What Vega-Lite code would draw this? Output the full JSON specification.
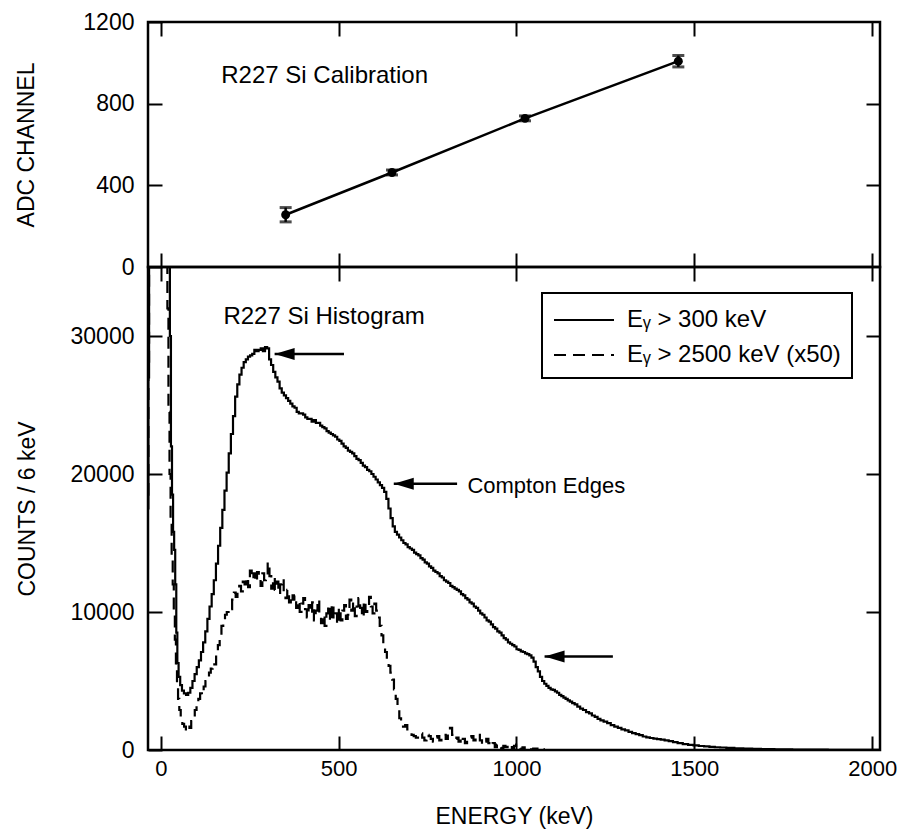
{
"$schema": "https://vega.github.io/schema/vega-lite/v6.json",
"background": "white",
"padding": {"left": 14, "top": 9, "right": 4, "bottom": 3},
"spacing": 0,
"bounds": "flush",
"resolve": {"legend": {"strokeDash": "independent"}},
"config": {
  "view": {"stroke": "black", "strokeWidth": 2.5},
  "axis": {"grid": false, "domain": false, "ticks": true, "tickColor": "black", "tickWidth": 2, "tickSize": -14, "minExtent": 0, "labelColor": "black", "labelFont": "Liberation Sans", "labelFontSize": 22, "labelPadding": 22, "format": "d", "titleColor": "black", "titleFont": "Liberation Sans", "titleFontSize": 23, "titleFontWeight": "normal"},
  "legend": {"strokeWidth": 2},
  "text": {"font": "Liberation Sans", "color": "black"}
},
"datasets": {
  "calib": [
    {"E": 351, "adc": 256, "lo": 221, "hi": 291},
    {"E": 650, "adc": 463, "lo": 451, "hi": 475},
    {"E": 1024, "adc": 728, "lo": 716, "hi": 740},
    {"E": 1455, "adc": 1008, "lo": 980, "hi": 1036}
  ],
  "arrows": [
    {"E": 320, "E2": 515, "c": 28700},
    {"E": 655, "E2": 833, "c": 19300},
    {"E": 1079, "E2": 1271, "c": 6780}
  ],
  "hist": [
{"E":-36,"c":17500,"s":"A"},{"E":-34,"c":27000,"s":"A"},{"E":-32,"c":40000,"s":"A"},{"E":24,"c":40000,"s":"A"},{"E":27,"c":30000,"s":"A"},{"E":30,"c":22000,"s":"A"},{"E":33,"c":18500,"s":"A"},{"E":36,"c":15800,"s":"A"},{"E":39,"c":14500,"s":"A"},{"E":42,"c":12000,"s":"A"},{"E":45,"c":8500,"s":"A"},{"E":48,"c":6300,"s":"A"},{"E":52,"c":5300,"s":"A"},{"E":57,"c":4700,"s":"A"},{"E":62,"c":4300,"s":"A"},{"E":68,"c":4100,"s":"A"},{"E":74,"c":4000,"s":"A"},{"E":80,"c":4150,"s":"A"},{"E":86,"c":4500,"s":"A"},{"E":92,"c":5000,"s":"A"},{"E":98,"c":5500,"s":"A"},{"E":104,"c":6000,"s":"A"},{"E":110,"c":6500,"s":"A"},{"E":116,"c":7100,"s":"A"},{"E":122,"c":7800,"s":"A"},{"E":128,"c":8600,"s":"A"},{"E":134,"c":9500,"s":"A"},{"E":140,"c":10400,"s":"A"},{"E":146,"c":11300,"s":"A"},{"E":152,"c":12300,"s":"A"},{"E":158,"c":13500,"s":"A"},{"E":164,"c":14800,"s":"A"},{"E":170,"c":16100,"s":"A"},{"E":176,"c":17400,"s":"A"},{"E":182,"c":18800,"s":"A"},{"E":188,"c":20100,"s":"A"},{"E":194,"c":21500,"s":"A"},{"E":200,"c":22900,"s":"A"},{"E":206,"c":24200,"s":"A"},{"E":212,"c":25600,"s":"A"},{"E":218,"c":26500,"s":"A"},{"E":224,"c":27200,"s":"A"},{"E":230,"c":27700,"s":"A"},{"E":236,"c":28100,"s":"A"},{"E":242,"c":28300,"s":"A"},{"E":248,"c":28500,"s":"A"},{"E":254,"c":28600,"s":"A"},{"E":260,"c":28700,"s":"A"},{"E":266,"c":29000,"s":"A"},{"E":272,"c":28900,"s":"A"},{"E":278,"c":29000,"s":"A"},{"E":284,"c":29100,"s":"A"},{"E":290,"c":28900,"s":"A"},{"E":296,"c":29200,"s":"A"},{"E":302,"c":29100,"s":"A"},{"E":307,"c":28300,"s":"A"},{"E":313,"c":27900,"s":"A"},{"E":319,"c":27400,"s":"A"},{"E":325,"c":27000,"s":"A"},{"E":331,"c":26700,"s":"A"},{"E":337,"c":26200,"s":"A"},{"E":343,"c":25900,"s":"A"},{"E":349,"c":25700,"s":"A"},{"E":355,"c":25500,"s":"A"},{"E":361,"c":25300,"s":"A"},{"E":367,"c":25100,"s":"A"},{"E":373,"c":24900,"s":"A"},{"E":379,"c":24800,"s":"A"},{"E":385,"c":24500,"s":"A"},{"E":391,"c":24400,"s":"A"},{"E":397,"c":24400,"s":"A"},{"E":403,"c":24300,"s":"A"},{"E":409,"c":24100,"s":"A"},{"E":415,"c":24000,"s":"A"},{"E":421,"c":24000,"s":"A"},{"E":427,"c":23800,"s":"A"},{"E":433,"c":23900,"s":"A"},{"E":439,"c":23700,"s":"A"},{"E":445,"c":23700,"s":"A"},{"E":451,"c":23500,"s":"A"},{"E":457,"c":23400,"s":"A"},{"E":463,"c":23300,"s":"A"},{"E":469,"c":23100,"s":"A"},{"E":475,"c":23000,"s":"A"},{"E":481,"c":22900,"s":"A"},{"E":487,"c":22800,"s":"A"},{"E":493,"c":22700,"s":"A"},{"E":499,"c":22500,"s":"A"},{"E":505,"c":22400,"s":"A"},{"E":511,"c":22200,"s":"A"},{"E":517,"c":22000,"s":"A"},{"E":523,"c":21900,"s":"A"},{"E":529,"c":21700,"s":"A"},{"E":535,"c":21600,"s":"A"},{"E":541,"c":21500,"s":"A"},{"E":547,"c":21300,"s":"A"},{"E":553,"c":21100,"s":"A"},{"E":559,"c":21000,"s":"A"},{"E":565,"c":20800,"s":"A"},{"E":571,"c":20600,"s":"A"},{"E":577,"c":20500,"s":"A"},{"E":583,"c":20300,"s":"A"},{"E":589,"c":20200,"s":"A"},{"E":595,"c":20000,"s":"A"},{"E":601,"c":19800,"s":"A"},{"E":607,"c":19600,"s":"A"},{"E":613,"c":19400,"s":"A"},{"E":619,"c":19200,"s":"A"},{"E":625,"c":19000,"s":"A"},{"E":631,"c":18700,"s":"A"},{"E":637,"c":18200,"s":"A"},{"E":643,"c":17500,"s":"A"},{"E":649,"c":16800,"s":"A"},{"E":655,"c":16200,"s":"A"},{"E":661,"c":15800,"s":"A"},{"E":667,"c":15600,"s":"A"},{"E":673,"c":15400,"s":"A"},{"E":679,"c":15200,"s":"A"},{"E":685,"c":15000,"s":"A"},{"E":691,"c":14900,"s":"A"},{"E":697,"c":14700,"s":"A"},{"E":703,"c":14600,"s":"A"},{"E":709,"c":14500,"s":"A"},{"E":715,"c":14300,"s":"A"},{"E":721,"c":14200,"s":"A"},{"E":727,"c":14100,"s":"A"},{"E":733,"c":13900,"s":"A"},{"E":739,"c":13800,"s":"A"},{"E":745,"c":13600,"s":"A"},{"E":751,"c":13500,"s":"A"},{"E":757,"c":13300,"s":"A"},{"E":763,"c":13200,"s":"A"},{"E":769,"c":13000,"s":"A"},{"E":775,"c":12900,"s":"A"},{"E":781,"c":12800,"s":"A"},{"E":787,"c":12600,"s":"A"},{"E":793,"c":12500,"s":"A"},{"E":799,"c":12300,"s":"A"},{"E":805,"c":12200,"s":"A"},{"E":811,"c":12100,"s":"A"},{"E":817,"c":11900,"s":"A"},{"E":823,"c":11800,"s":"A"},{"E":829,"c":11700,"s":"A"},{"E":835,"c":11600,"s":"A"},{"E":841,"c":11500,"s":"A"},{"E":847,"c":11300,"s":"A"},{"E":853,"c":11200,"s":"A"},{"E":859,"c":11000,"s":"A"},{"E":865,"c":10900,"s":"A"},{"E":871,"c":10700,"s":"A"},{"E":877,"c":10600,"s":"A"},{"E":883,"c":10400,"s":"A"},{"E":889,"c":10300,"s":"A"},{"E":895,"c":10100,"s":"A"},{"E":901,"c":9900,"s":"A"},{"E":907,"c":9800,"s":"A"},{"E":913,"c":9600,"s":"A"},{"E":919,"c":9400,"s":"A"},{"E":925,"c":9300,"s":"A"},{"E":931,"c":9100,"s":"A"},{"E":937,"c":8900,"s":"A"},{"E":943,"c":8800,"s":"A"},{"E":949,"c":8600,"s":"A"},{"E":955,"c":8500,"s":"A"},{"E":961,"c":8300,"s":"A"},{"E":967,"c":8100,"s":"A"},{"E":973,"c":8000,"s":"A"},{"E":979,"c":7800,"s":"A"},{"E":985,"c":7700,"s":"A"},{"E":991,"c":7600,"s":"A"},{"E":997,"c":7500,"s":"A"},{"E":1003,"c":7300,"s":"A"},{"E":1009,"c":7250,"s":"A"},{"E":1015,"c":7150,"s":"A"},{"E":1021,"c":7100,"s":"A"},{"E":1027,"c":7000,"s":"A"},{"E":1033,"c":6950,"s":"A"},{"E":1039,"c":6850,"s":"A"},{"E":1045,"c":6700,"s":"A"},{"E":1051,"c":6400,"s":"A"},{"E":1057,"c":6000,"s":"A"},{"E":1063,"c":5700,"s":"A"},{"E":1069,"c":5300,"s":"A"},{"E":1075,"c":5000,"s":"A"},{"E":1081,"c":4800,"s":"A"},{"E":1087,"c":4650,"s":"A"},{"E":1093,"c":4500,"s":"A"},{"E":1099,"c":4400,"s":"A"},{"E":1105,"c":4350,"s":"A"},{"E":1111,"c":4250,"s":"A"},{"E":1117,"c":4150,"s":"A"},{"E":1123,"c":4000,"s":"A"},{"E":1129,"c":3900,"s":"A"},{"E":1135,"c":3800,"s":"A"},{"E":1141,"c":3700,"s":"A"},{"E":1147,"c":3600,"s":"A"},{"E":1153,"c":3500,"s":"A"},{"E":1160,"c":3400,"s":"A"},{"E":1167,"c":3300,"s":"A"},{"E":1175,"c":3150,"s":"A"},{"E":1183,"c":3000,"s":"A"},{"E":1191,"c":2900,"s":"A"},{"E":1200,"c":2750,"s":"A"},{"E":1208,"c":2650,"s":"A"},{"E":1216,"c":2500,"s":"A"},{"E":1224,"c":2400,"s":"A"},{"E":1232,"c":2250,"s":"A"},{"E":1240,"c":2150,"s":"A"},{"E":1250,"c":2050,"s":"A"},{"E":1260,"c":1950,"s":"A"},{"E":1270,"c":1800,"s":"A"},{"E":1280,"c":1700,"s":"A"},{"E":1290,"c":1600,"s":"A"},{"E":1300,"c":1500,"s":"A"},{"E":1310,"c":1420,"s":"A"},{"E":1320,"c":1320,"s":"A"},{"E":1330,"c":1230,"s":"A"},{"E":1340,"c":1150,"s":"A"},{"E":1350,"c":1080,"s":"A"},{"E":1360,"c":980,"s":"A"},{"E":1370,"c":920,"s":"A"},{"E":1380,"c":870,"s":"A"},{"E":1390,"c":830,"s":"A"},{"E":1400,"c":790,"s":"A"},{"E":1411,"c":750,"s":"A"},{"E":1422,"c":700,"s":"A"},{"E":1434,"c":640,"s":"A"},{"E":1446,"c":570,"s":"A"},{"E":1460,"c":500,"s":"A"},{"E":1475,"c":430,"s":"A"},{"E":1490,"c":370,"s":"A"},{"E":1505,"c":330,"s":"A"},{"E":1520,"c":290,"s":"A"},{"E":1535,"c":260,"s":"A"},{"E":1550,"c":230,"s":"A"},{"E":1565,"c":200,"s":"A"},{"E":1580,"c":180,"s":"A"},{"E":1600,"c":150,"s":"A"},{"E":1625,"c":120,"s":"A"},{"E":1650,"c":100,"s":"A"},{"E":1675,"c":85,"s":"A"},{"E":1700,"c":70,"s":"A"},{"E":1750,"c":50,"s":"A"},{"E":1800,"c":35,"s":"A"},{"E":1850,"c":25,"s":"A"},{"E":1900,"c":15,"s":"A"},{"E":1950,"c":10,"s":"A"},{"E":2000,"c":8,"s":"A"},{"E":2022,"c":5,"s":"A"},
{"E":-36,"c":18500,"s":"B"},{"E":-34,"c":28000,"s":"B"},{"E":-32,"c":40000,"s":"B"},{"E":17,"c":40000,"s":"B"},{"E":20,"c":32000,"s":"B"},{"E":23,"c":24500,"s":"B"},{"E":26,"c":20000,"s":"B"},{"E":29,"c":16500,"s":"B"},{"E":32,"c":14000,"s":"B"},{"E":35,"c":12000,"s":"B"},{"E":38,"c":10000,"s":"B"},{"E":41,"c":8000,"s":"B"},{"E":44,"c":6200,"s":"B"},{"E":47,"c":4800,"s":"B"},{"E":50,"c":3700,"s":"B"},{"E":54,"c":2900,"s":"B"},{"E":58,"c":2300,"s":"B"},{"E":63,"c":1900,"s":"B"},{"E":68,"c":1700,"s":"B"},{"E":73,"c":1500,"s":"B"},{"E":78,"c":1800,"s":"B"},{"E":83,"c":1600,"s":"B"},{"E":88,"c":2100,"s":"B"},{"E":93,"c":2500,"s":"B"},{"E":98,"c":2900,"s":"B"},{"E":103,"c":3300,"s":"B"},{"E":108,"c":3700,"s":"B"},{"E":113,"c":4100,"s":"B"},{"E":118,"c":4000,"s":"B"},{"E":123,"c":4600,"s":"B"},{"E":128,"c":5000,"s":"B"},{"E":133,"c":5200,"s":"B"},{"E":138,"c":5600,"s":"B"},{"E":143,"c":5900,"s":"B"},{"E":148,"c":6300,"s":"B"},{"E":153,"c":6200,"s":"B"},{"E":158,"c":6900,"s":"B"},{"E":163,"c":7600,"s":"B"},{"E":168,"c":8300,"s":"B"},{"E":173,"c":9000,"s":"B"},{"E":178,"c":9300,"s":"B"},{"E":183,"c":9800,"s":"B"},{"E":188,"c":10000,"s":"B"},{"E":193,"c":10300,"s":"B"},{"E":198,"c":10200,"s":"B"},{"E":203,"c":10900,"s":"B"},{"E":208,"c":11400,"s":"B"},{"E":213,"c":11100,"s":"B"},{"E":218,"c":11700,"s":"B"},{"E":223,"c":11900,"s":"B"},{"E":228,"c":11500,"s":"B"},{"E":233,"c":12200,"s":"B"},{"E":238,"c":12000,"s":"B"},{"E":243,"c":12500,"s":"B"},{"E":248,"c":11800,"s":"B"},{"E":253,"c":13000,"s":"B"},{"E":258,"c":12400,"s":"B"},{"E":263,"c":12800,"s":"B"},{"E":268,"c":12200,"s":"B"},{"E":273,"c":12900,"s":"B"},{"E":278,"c":12500,"s":"B"},{"E":283,"c":11900,"s":"B"},{"E":288,"c":12800,"s":"B"},{"E":293,"c":12300,"s":"B"},{"E":298,"c":12700,"s":"B"},{"E":303,"c":13600,"s":"B"},{"E":308,"c":12600,"s":"B"},{"E":313,"c":11700,"s":"B"},{"E":318,"c":12500,"s":"B"},{"E":323,"c":11600,"s":"B"},{"E":328,"c":12200,"s":"B"},{"E":333,"c":11300,"s":"B"},{"E":338,"c":12000,"s":"B"},{"E":343,"c":12400,"s":"B"},{"E":348,"c":11500,"s":"B"},{"E":353,"c":11000,"s":"B"},{"E":358,"c":11600,"s":"B"},{"E":363,"c":10700,"s":"B"},{"E":368,"c":11300,"s":"B"},{"E":373,"c":10900,"s":"B"},{"E":378,"c":11200,"s":"B"},{"E":383,"c":10300,"s":"B"},{"E":388,"c":10800,"s":"B"},{"E":393,"c":10000,"s":"B"},{"E":398,"c":10600,"s":"B"},{"E":403,"c":11000,"s":"B"},{"E":408,"c":10200,"s":"B"},{"E":413,"c":9600,"s":"B"},{"E":418,"c":10500,"s":"B"},{"E":423,"c":9900,"s":"B"},{"E":428,"c":10700,"s":"B"},{"E":433,"c":9400,"s":"B"},{"E":438,"c":10100,"s":"B"},{"E":443,"c":10900,"s":"B"},{"E":448,"c":9700,"s":"B"},{"E":453,"c":9200,"s":"B"},{"E":458,"c":9800,"s":"B"},{"E":463,"c":9000,"s":"B"},{"E":468,"c":9900,"s":"B"},{"E":473,"c":10500,"s":"B"},{"E":478,"c":9300,"s":"B"},{"E":483,"c":10600,"s":"B"},{"E":488,"c":9500,"s":"B"},{"E":493,"c":9900,"s":"B"},{"E":498,"c":9100,"s":"B"},{"E":503,"c":10300,"s":"B"},{"E":508,"c":9400,"s":"B"},{"E":513,"c":10100,"s":"B"},{"E":518,"c":10500,"s":"B"},{"E":523,"c":9500,"s":"B"},{"E":528,"c":9800,"s":"B"},{"E":533,"c":10900,"s":"B"},{"E":538,"c":10100,"s":"B"},{"E":543,"c":10700,"s":"B"},{"E":548,"c":9700,"s":"B"},{"E":553,"c":10400,"s":"B"},{"E":558,"c":11000,"s":"B"},{"E":563,"c":10300,"s":"B"},{"E":568,"c":9600,"s":"B"},{"E":573,"c":10800,"s":"B"},{"E":578,"c":10000,"s":"B"},{"E":583,"c":10500,"s":"B"},{"E":588,"c":11100,"s":"B"},{"E":593,"c":10400,"s":"B"},{"E":598,"c":9900,"s":"B"},{"E":603,"c":10600,"s":"B"},{"E":608,"c":10100,"s":"B"},{"E":613,"c":9600,"s":"B"},{"E":618,"c":9000,"s":"B"},{"E":623,"c":8300,"s":"B"},{"E":628,"c":7700,"s":"B"},{"E":633,"c":7100,"s":"B"},{"E":638,"c":6700,"s":"B"},{"E":643,"c":6100,"s":"B"},{"E":648,"c":5600,"s":"B"},{"E":653,"c":5100,"s":"B"},{"E":658,"c":4400,"s":"B"},{"E":663,"c":3700,"s":"B"},{"E":668,"c":2900,"s":"B"},{"E":673,"c":2300,"s":"B"},{"E":678,"c":1900,"s":"B"},{"E":684,"c":1700,"s":"B"},{"E":690,"c":1800,"s":"B"},{"E":696,"c":1500,"s":"B"},{"E":702,"c":1300,"s":"B"},{"E":708,"c":1100,"s":"B"},{"E":714,"c":1000,"s":"B"},{"E":720,"c":900,"s":"B"},{"E":726,"c":1100,"s":"B"},{"E":732,"c":1200,"s":"B"},{"E":738,"c":900,"s":"B"},{"E":744,"c":700,"s":"B"},{"E":750,"c":1100,"s":"B"},{"E":756,"c":1000,"s":"B"},{"E":762,"c":800,"s":"B"},{"E":768,"c":600,"s":"B"},{"E":774,"c":900,"s":"B"},{"E":780,"c":1000,"s":"B"},{"E":786,"c":700,"s":"B"},{"E":792,"c":900,"s":"B"},{"E":798,"c":1100,"s":"B"},{"E":804,"c":800,"s":"B"},{"E":810,"c":1300,"s":"B"},{"E":816,"c":1600,"s":"B"},{"E":822,"c":1100,"s":"B"},{"E":828,"c":800,"s":"B"},{"E":834,"c":900,"s":"B"},{"E":840,"c":600,"s":"B"},{"E":846,"c":1000,"s":"B"},{"E":852,"c":800,"s":"B"},{"E":858,"c":500,"s":"B"},{"E":864,"c":700,"s":"B"},{"E":870,"c":900,"s":"B"},{"E":876,"c":1000,"s":"B"},{"E":882,"c":700,"s":"B"},{"E":888,"c":900,"s":"B"},{"E":894,"c":1100,"s":"B"},{"E":900,"c":700,"s":"B"},{"E":906,"c":400,"s":"B"},{"E":912,"c":600,"s":"B"},{"E":918,"c":800,"s":"B"},{"E":924,"c":500,"s":"B"},{"E":930,"c":300,"s":"B"},{"E":936,"c":500,"s":"B"},{"E":942,"c":200,"s":"B"},{"E":948,"c":400,"s":"B"},{"E":954,"c":300,"s":"B"},{"E":960,"c":150,"s":"B"},{"E":966,"c":300,"s":"B"},{"E":972,"c":200,"s":"B"},{"E":978,"c":400,"s":"B"},{"E":984,"c":300,"s":"B"},{"E":990,"c":100,"s":"B"},{"E":996,"c":300,"s":"B"},{"E":1002,"c":400,"s":"B"},{"E":1008,"c":200,"s":"B"},{"E":1014,"c":100,"s":"B"},{"E":1020,"c":200,"s":"B"},{"E":1026,"c":0,"s":"B"},{"E":1032,"c":100,"s":"B"},{"E":1038,"c":200,"s":"B"},{"E":1044,"c":0,"s":"B"},{"E":1050,"c":100,"s":"B"},{"E":1056,"c":50,"s":"B"},{"E":1062,"c":100,"s":"B"},{"E":1068,"c":0,"s":"B"},{"E":1074,"c":50,"s":"B"},{"E":1080,"c":0,"s":"B"}
  ]
},
"vconcat": [
  {
    "width": 732, "height": 245,
    "resolve": {"axis": {"x": "independent", "y": "independent"}},
    "layer": [
      {"data": {"name": "calib"}, "mark": {"type": "line", "color": "black", "strokeWidth": 2.5},
       "encoding": {
         "x": {"field": "E", "type": "quantitative", "scale": {"domain": [-36, 2022], "nice": false, "zero": false}, "axis": {"orient": "bottom", "labels": false, "title": null, "values": [0, 500, 1000, 1500, 2000]}},
         "y": {"field": "adc", "type": "quantitative", "scale": {"domain": [0, 1200], "nice": false}, "axis": {"orient": "left", "values": [0, 400, 800, 1200], "labelFontSize": 23, "labelPadding": 28, "title": "ADC CHANNEL", "titlePadding": 44}}
       }},
      {"data": {"name": "calib"}, "mark": {"type": "rule", "color": "black", "strokeWidth": 2.5},
       "encoding": {"x": {"field": "E", "type": "quantitative", "axis": null}, "y": {"field": "lo", "type": "quantitative", "axis": null}, "y2": {"field": "hi"}}},
      {"data": {"name": "calib"}, "mark": {"type": "tick", "orient": "horizontal", "color": "black", "size": 12, "thickness": 3},
       "encoding": {"x": {"field": "E", "type": "quantitative", "axis": null}, "y": {"field": "lo", "type": "quantitative", "axis": null}}},
      {"data": {"name": "calib"}, "mark": {"type": "tick", "orient": "horizontal", "color": "black", "size": 12, "thickness": 3},
       "encoding": {"x": {"field": "E", "type": "quantitative", "axis": null}, "y": {"field": "hi", "type": "quantitative", "axis": null}}},
      {"data": {"name": "calib"}, "mark": {"type": "point", "filled": true, "color": "black", "size": 80, "opacity": 1},
       "encoding": {"x": {"field": "E", "type": "quantitative", "axis": null}, "y": {"field": "adc", "type": "quantitative", "axis": null}}},
      {"data": {"values": [{"E": 170, "adc": 937, "t": "R227 Si Calibration"}]}, "mark": {"type": "text", "align": "left", "baseline": "middle", "fontSize": 24},
       "encoding": {"x": {"field": "E", "type": "quantitative", "axis": null}, "y": {"field": "adc", "type": "quantitative", "axis": null}, "text": {"field": "t"}}},
      {"data": {"name": "calib"}, "mark": {"type": "point", "opacity": 0},
       "encoding": {
         "x": {"field": "E", "type": "quantitative", "axis": {"orient": "top", "labels": false, "title": null, "values": [0, 500, 1000, 1500, 2000]}},
         "y": {"field": "adc", "type": "quantitative", "axis": {"orient": "right", "labels": false, "title": null, "values": [400, 800]}}
       }}
    ]
  },
  {
    "width": 732, "height": 483,
    "resolve": {"axis": {"x": "independent", "y": "independent"}},
    "layer": [
      {"data": {"name": "hist"}, "mark": {"type": "line", "color": "black", "strokeWidth": 2.2, "interpolate": "step", "clip": true},
       "encoding": {
         "x": {"field": "E", "type": "quantitative", "scale": {"domain": [-36, 2022], "nice": false, "zero": false}, "axis": {"orient": "bottom", "values": [0, 500, 1000, 1500, 2000], "labelPadding": 22, "title": "ENERGY (keV)", "titlePadding": 26}},
         "y": {"field": "c", "type": "quantitative", "scale": {"domain": [0, 35000], "nice": false}, "axis": {"orient": "left", "values": [0, 10000, 20000, 30000], "labelFontSize": 23, "labelPadding": 28, "title": "COUNTS / 6 keV", "titlePadding": 31}},
         "strokeDash": {"field": "s", "type": "nominal", "scale": {"domain": ["A", "B"], "range": [[1, 0], [12, 7]]},
           "legend": {"title": null, "orient": "none", "legendX": 394, "legendY": 26, "labelExpr": "datum.label == 'A' ? 'Eᵧ > 300 keV' : 'Eᵧ > 2500 keV (x50)'", "labelFont": "Liberation Sans", "labelFontSize": 24, "labelColor": "black", "labelLimit": 0, "labelBaseline": "middle", "symbolType": "M -1 0 L 3 0", "symbolSize": 900, "symbolStrokeWidth": 2, "symbolStrokeColor": "black", "strokeColor": "black", "fillColor": "white", "padding": 11, "rowPadding": 7, "labelOffset": 42}}
       }},
      {"data": {"name": "arrows"}, "mark": {"type": "rule", "color": "black", "strokeWidth": 2.5},
       "encoding": {"x": {"field": "E", "type": "quantitative", "axis": null}, "x2": {"field": "E2"}, "y": {"field": "c", "type": "quantitative", "axis": null}}},
      {"data": {"name": "arrows"}, "mark": {"type": "point", "shape": "M 0 0 L 2 -0.6 L 2 0.6 Z", "filled": true, "color": "black", "size": 400, "opacity": 1},
       "encoding": {"x": {"field": "E", "type": "quantitative", "axis": null}, "y": {"field": "c", "type": "quantitative", "axis": null}}},
      {"data": {"values": [{"E": 176, "c": 31400, "t": "R227 Si Histogram"}, {"E": 862, "c": 19100, "t": "Compton Edges"}]}, "mark": {"type": "text", "align": "left", "baseline": "middle"},
       "encoding": {"x": {"field": "E", "type": "quantitative", "axis": null}, "y": {"field": "c", "type": "quantitative", "axis": null}, "text": {"field": "t"},
         "size": {"field": "t", "type": "nominal", "scale": {"domain": ["R227 Si Histogram", "Compton Edges"], "range": [24, 22]}, "legend": null}}},
      {"data": {"name": "arrows"}, "mark": {"type": "point", "opacity": 0},
       "encoding": {
         "x": {"field": "E", "type": "quantitative", "axis": {"orient": "top", "labels": false, "title": null, "values": [0, 500, 1000, 1500, 2000]}},
         "y": {"field": "c", "type": "quantitative", "axis": {"orient": "right", "labels": false, "title": null, "values": [10000, 20000, 30000]}}
       }}
    ]
  }
]
}
